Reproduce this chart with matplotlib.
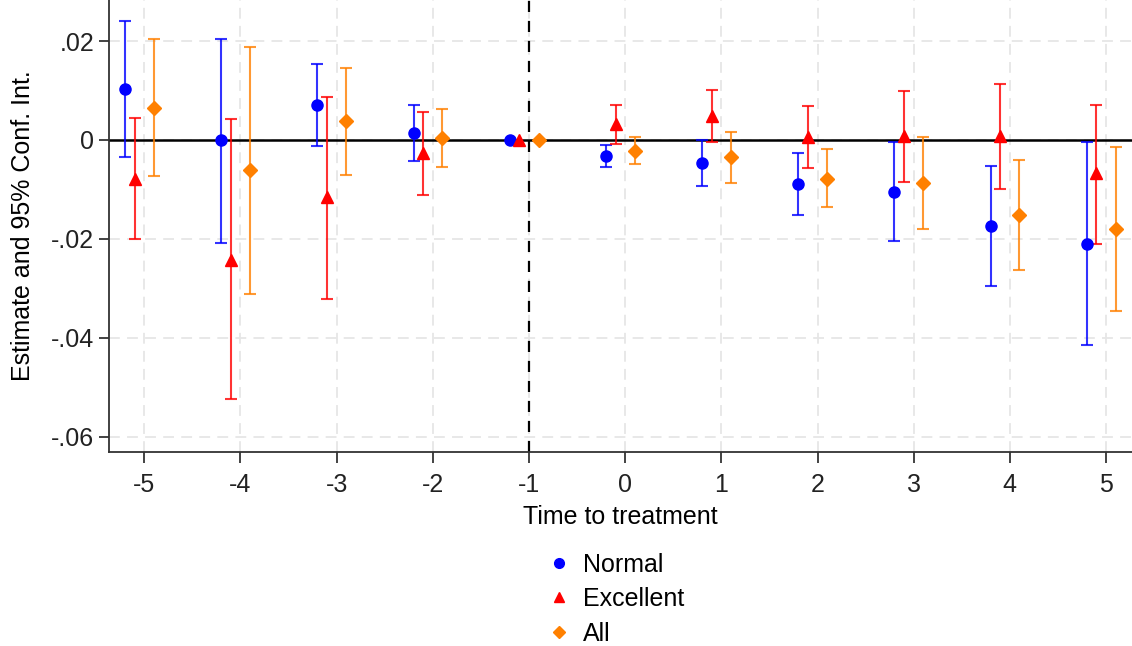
import numpy as np
import matplotlib.pyplot as plt

plt.rcParams['font.family'] = ['Liberation Sans', 'DejaVu Sans']
plt.rcParams['axes.unicode_minus'] = False

periods = [-5, -4, -3, -2, -1, 0, 1, 2, 3, 4, 5]

normal_est = [0.0103, 0.0000, 0.0071, 0.0015, 0.0, -0.0032, -0.0047, -0.0090, -0.0105, -0.0173, -0.0210]
normal_lo = [-0.0035, -0.0208, -0.0012, -0.0043, 0.0, -0.0054, -0.0093, -0.0152, -0.0204, -0.0295, -0.0414]
normal_hi = [0.0241, 0.0205, 0.0154, 0.0071, 0.0, -0.0011, 0.0000, -0.0026, -0.0005, -0.0052, -0.0005]

excel_est = [-0.0078, -0.0243, -0.0116, -0.0027, 0.0, 0.0032, 0.0049, 0.0005, 0.0009, 0.0009, -0.0067]
excel_lo = [-0.0200, -0.0524, -0.0321, -0.0111, 0.0, -0.0008, -0.0005, -0.0057, -0.0085, -0.0099, -0.0210]
excel_hi = [0.0044, 0.0042, 0.0086, 0.0056, 0.0, 0.0070, 0.0101, 0.0068, 0.0100, 0.0113, 0.0071]

all_est = [0.0065, -0.0061, 0.0038, 0.0004, 0.0, -0.0022, -0.0035, -0.0078, -0.0088, -0.0152, -0.0180]
all_lo = [-0.0072, -0.0311, -0.0070, -0.0055, 0.0, -0.0048, -0.0087, -0.0135, -0.0180, -0.0262, -0.0346]
all_hi = [0.0204, 0.0188, 0.0146, 0.0063, 0.0, 0.0005, 0.0016, -0.0019, 0.0005, -0.0040, -0.0014]

series = [
    ('Normal', normal_est, normal_lo, normal_hi, -0.2, 'o', '#0000ff', 8),
    ('Excellent', excel_est, excel_lo, excel_hi, -0.1, '^', '#ff0000', 8),
    ('All', all_est, all_lo, all_hi, 0.1, 'D', '#ff8000', 7),
]

FS = 18

fig = plt.figure(figsize=(11.32, 6.46), dpi=100)
ax = fig.add_axes([0.0966, 0.3003, 0.9034, 0.6997])

ax.axhline(0, color='black', lw=1.8, zorder=1)
ax.axvline(-1, color='black', lw=1.6, ls=(0, (5, 4)), zorder=1)

x = np.array(periods, dtype=float)
handles = []
for name, est, lo, hi, off, mk, col, ms in series:
    est = np.array(est)
    yerr = [est - np.array(lo), np.array(hi) - est]
    # the reference period (-1) is normalised to zero, so no interval there
    yerr[0][4] = np.nan
    yerr[1][4] = np.nan
    ax.errorbar(x + off, est, yerr=yerr, fmt='none', ecolor=col, elinewidth=1.5,
                capsize=4, capthick=1.5, alpha=0.8, zorder=2)
    h, = ax.plot(x + off, est, ls='none', marker=mk, color=col, ms=ms, zorder=3,
                 label=name)
    handles.append(h)

ax.set_xlim(-5.363, 5.27)
ax.set_ylim(-0.0631, 0.0283)
ax.set_xticks(periods)
ax.set_yticks([0.02, 0, -0.02, -0.04, -0.06])
ax.set_yticklabels(['.02', '0', '-.02', '-.04', '-.06'])
ax.grid(True, color='#e6e6e6', ls=(0, (6, 4)), lw=1.3)
ax.set_axisbelow(True)

for s in ['top', 'right']:
    ax.spines[s].set_visible(False)
for s in ['left', 'bottom']:
    ax.spines[s].set_color('#333333')
    ax.spines[s].set_linewidth(1.3)

ax.tick_params(axis='both', labelsize=FS, colors='#222222', width=1.2)
ax.tick_params(axis='x', length=8, pad=7)
ax.tick_params(axis='y', length=7, pad=4)

ax.set_xlabel('Time to treatment', fontsize=FS, labelpad=6)
ax.set_ylabel('Estimate and 95% Conf. Int.', fontsize=FS)
ax.yaxis.set_label_coords(-0.073, 0.5)

leg_handles = [plt.Line2D([], [], ls='none', marker=h.get_marker(), color=h.get_color(),
                          ms=7 if h.get_marker() != 'D' else 6) for h in handles]
fig.legend(leg_handles, [h.get_label() for h in handles], loc='upper left',
           bbox_to_anchor=(0.476, 0.16), bbox_transform=fig.transFigure,
           frameon=False, fontsize=FS, handlelength=0.8, handletextpad=0.55,
           labelspacing=0.42, borderaxespad=0)

fig.savefig('out.png', dpi=100)
